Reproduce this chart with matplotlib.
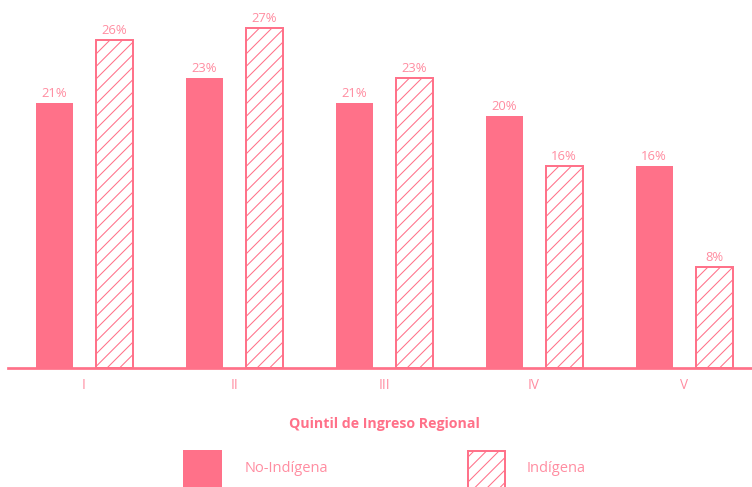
"""Share by income quintile, indigenous vs non-indigenous population."""

import matplotlib

matplotlib.use("Agg")
import matplotlib.pyplot as plt
import numpy as np
from matplotlib.patches import Rectangle

quintiles = ["I", "II", "III", "IV", "V"]
no_indigena = [21, 23, 21, 20, 16]
indigena = [26, 27, 23, 16, 8]

series_labels = ["No-Indígena", "Indígena"]
x_title = "Quintil de Ingreso Regional"

PINK = "#FF7189"
TEXT = "#FF8DA1"
DPI = 75
W, H = 753, 487

plt.rcParams["font.family"] = ["Open Sans", "DejaVu Sans"]
plt.rcParams["hatch.linewidth"] = 1.0

fig = plt.figure(figsize=(W / DPI, H / DPI), dpi=DPI)
ax = fig.add_axes([8 / W, (H - 368) / H, (W - 8) / W, 368 / H])

x = np.arange(len(quintiles))
width = 0.247
offset = 0.2

solid = ax.bar(x - offset, no_indigena, width, color=PINK, linewidth=0)
hatched = ax.bar(x + offset, indigena, width, facecolor="white",
                 edgecolor=PINK, linewidth=1.9, hatch="//")

for bars, vals in ((solid, no_indigena), (hatched, indigena)):
    for b, v in zip(bars, vals):
        ax.annotate(f"{v}%", (b.get_x() + b.get_width() / 2, v),
                    xytext=(0, 3), textcoords="offset points",
                    ha="center", va="bottom", fontsize=12.5, color=TEXT)

ax.set_xlim(-0.507, (W - 83) / 150 - 0.007)
ax.set_ylim(0, 368 / 12.6)
ax.set_xticks(x)
ax.set_xticklabels(quintiles, fontsize=13, color=TEXT)
ax.tick_params(axis="x", length=0, pad=10)
ax.set_yticks([])
for side in ("top", "right", "left"):
    ax.spines[side].set_visible(False)
ax.spines["bottom"].set_color(PINK)
ax.spines["bottom"].set_linewidth(2.6)

fig.text(384 / W, 1 - 424 / H, x_title, ha="center", va="center",
         fontsize=13.5, fontweight="bold", color=PINK)

# legend swatches, running off the lower edge
fig.add_artist(Rectangle((183 / W, -10 / H), 39 / W, 47 / H,
                         transform=fig.transFigure, color=PINK, linewidth=0))
fig.add_artist(Rectangle((468 / W, -10 / H), 37 / W, 46 / H,
                         transform=fig.transFigure, facecolor="white",
                         edgecolor=PINK, linewidth=1.9, hatch="//"))
fig.text(245 / W, 1 - 468 / H, series_labels[0], ha="left", va="center",
         fontsize=14, color=TEXT)
fig.text(527 / W, 1 - 468 / H, series_labels[1], ha="left", va="center",
         fontsize=14, color=TEXT)

fig.savefig("out.png", dpi=DPI)
